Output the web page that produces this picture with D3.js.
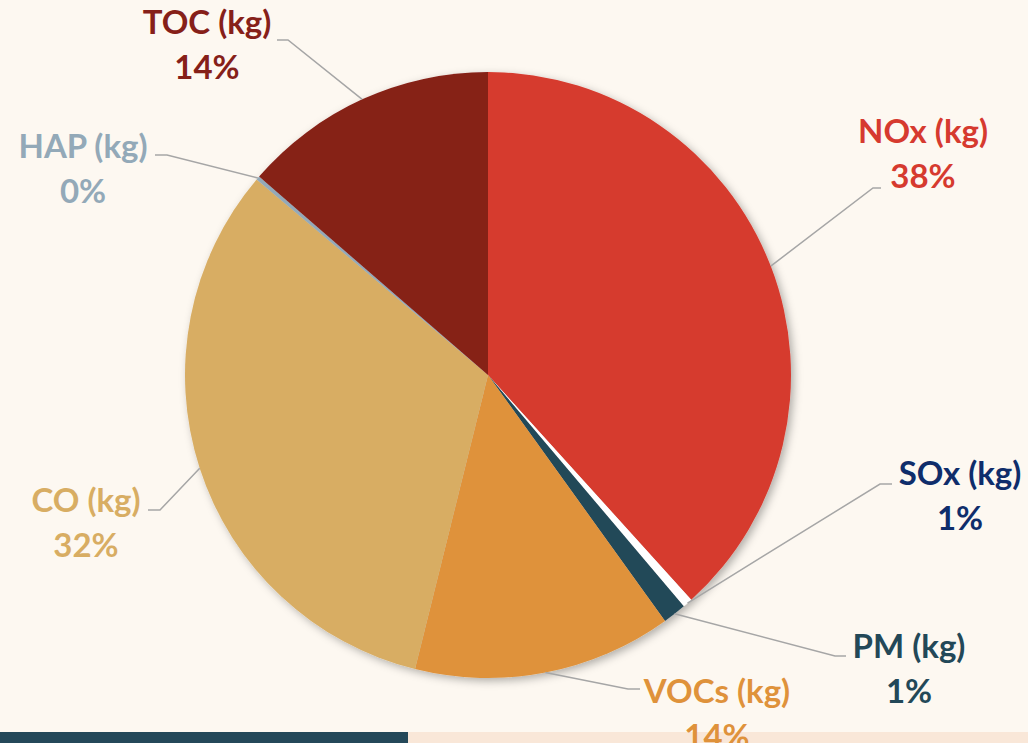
<!DOCTYPE html>
<html>
<head>
<meta charset="utf-8">
<script src="https://cdn.jsdelivr.net/npm/d3@7"></script>
<style>
  html, body { margin: 0; padding: 0; background: #FDF8F1; }
  svg { display: block; }
</style>
</head>
<body>
<div id="chart"></div>
<script>
// data (share of total emissions)
const categories = ["NOx (kg)", "SOx (kg)", "PM (kg)", "VOCs (kg)", "CO (kg)", "HAP (kg)", "TOC (kg)"];
const values     = [38.3, 0.52, 1.25, 13.8, 32.3, 0.2, 13.63];

// styling
const sliceColors = ["#D63A2F", "#FFFFFF", "#234858", "#DF923B", "#D8AD63", "#93A9B8", "#862019"];
const labelColors = ["#D63A2F", "#0F2D6B", "#234858", "#DF923B", "#D8AD63", "#93A9B8", "#862019"];

// label layout: text centre x, first baseline y, leader elbow and leader end
const labelLayout = [
  {x: 923, y: 143, elbow: [873, 188], end: [881, 188]},
  {x: 960, y: 485, elbow: [880, 484], end: [892, 484]},
  {x: 909, y: 658, elbow: [835, 656], end: [846, 656]},
  {x: 717, y: 703, elbow: [628, 689], end: [640, 689]},
  {x: 86,  y: 512, elbow: [160, 510], end: [148, 510]},
  {x: 83,  y: 158, elbow: [167, 155], end: [155, 155]},
  {x: 207, y: 34,  elbow: [288, 40],  end: [277, 40]}
];

const width = 1028, height = 743;
const cx = 488, cy = 375, radius = 303;

const svg = d3.select("#chart")
  .append("svg")
    .attr("width", width)
    .attr("height", height);

svg.append("rect")
  .attr("width", width)
  .attr("height", height)
  .attr("fill", "#FDF8F1");

// bottom band
svg.append("rect")
  .attr("x", 0).attr("y", 732)
  .attr("width", 408).attr("height", 11)
  .attr("fill", "#244859");
svg.append("rect")
  .attr("x", 408).attr("y", 732)
  .attr("width", width - 408).attr("height", 11)
  .attr("fill", "#F9E7D8");

// soft shadow under the pie
const defs = svg.append("defs");
const f = defs.append("filter")
  .attr("id", "shadow")
  .attr("x", "-10%").attr("y", "-10%")
  .attr("width", "120%").attr("height", "120%");
f.append("feDropShadow")
  .attr("dx", 3).attr("dy", 3)
  .attr("stdDeviation", 4)
  .attr("flood-color", "#000")
  .attr("flood-opacity", 0.3);

const data = categories.map((c, i) => ({name: c, value: values[i], i: i}));
const total = d3.sum(values);

const pie = d3.pie()
  .value(d => d.value)
  .sort(null);

const arc = d3.arc()
  .innerRadius(0)
  .outerRadius(radius);

const arcs = pie(data);

const g = svg.append("g")
  .attr("transform", `translate(${cx},${cy})`);

g.append("g")
  .attr("filter", "url(#shadow)")
  .selectAll("path")
  .data(arcs)
  .join("path")
    .attr("d", arc)
    .attr("fill", d => sliceColors[d.data.i]);

// leader lines
svg.selectAll(".leader")
  .data(arcs)
  .join("polyline")
    .attr("class", "leader")
    .attr("fill", "none")
    .attr("stroke", "#A6A6A6")
    .attr("stroke-width", 1.5)
    .attr("points", d => {
      const a = (d.startAngle + d.endAngle) / 2;
      const sx = cx + radius * Math.sin(a);
      const sy = cy - radius * Math.cos(a);
      const L = labelLayout[d.data.i];
      return [[sx, sy], L.elbow, L.end].map(p => p.join(",")).join(" ");
    });

// labels
const labels = svg.selectAll(".label")
  .data(arcs)
  .join("text")
    .attr("class", "label")
    .attr("text-anchor", "middle")
    .attr("font-family", "Lato, 'Open Sans', sans-serif")
    .attr("font-weight", "bold")
    .attr("font-size", "33px")
    .attr("fill", d => labelColors[d.data.i]);

labels.append("tspan")
  .attr("x", d => labelLayout[d.data.i].x)
  .attr("y", d => labelLayout[d.data.i].y)
  .text(d => d.data.name);

labels.append("tspan")
  .attr("x", d => labelLayout[d.data.i].x)
  .attr("y", d => labelLayout[d.data.i].y + 45)
  .text(d => Math.round(d.data.value / total * 100) + "%");
</script>
</body>
</html>
